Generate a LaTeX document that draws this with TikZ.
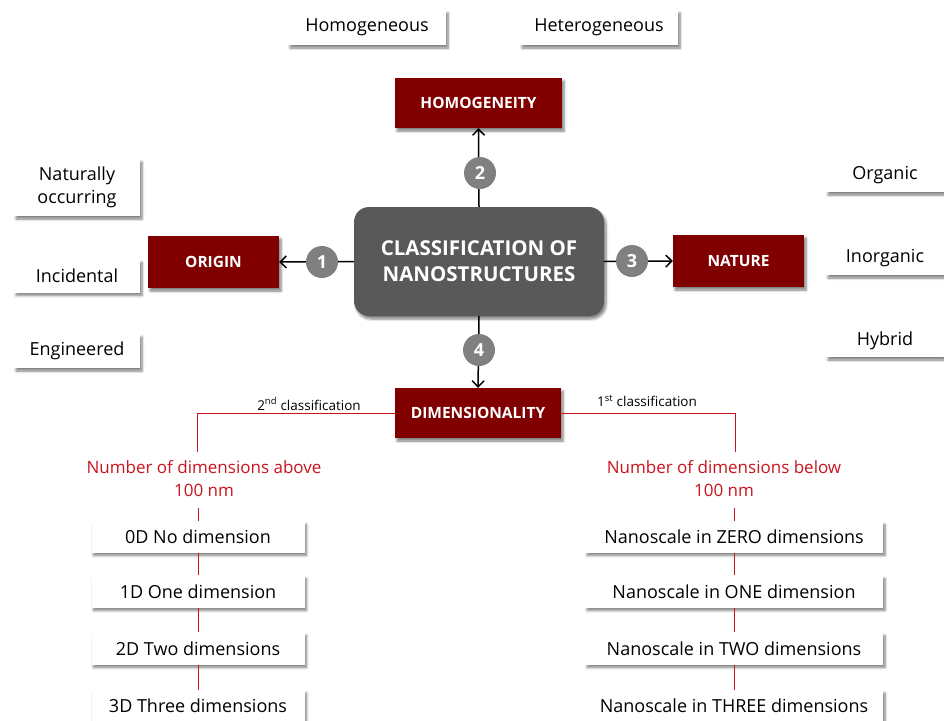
\documentclass[tikz,border=0pt]{standalone}
\usepackage{fontspec}
\setmainfont{Open Sans}
\usetikzlibrary{arrows.meta,shadows.blur}
\definecolor{boxred}{RGB}{128,0,0}
\definecolor{hubgrey}{RGB}{89,89,89}
\definecolor{numgrey}{RGB}{128,128,128}
\definecolor{linered}{RGB}{200,20,30}

\tikzset{
  shadowed/.style={blur shadow={shadow xshift=2pt, shadow yshift=-3pt,
      shadow blur steps=6, shadow blur radius=2.5pt, shadow opacity=50}},
  item/.style={shadowed, fill=white, align=center, inner sep=0pt,
      font=\fontsize{18}{23}\selectfont},
  catbox/.style={shadowed, fill=boxred, text=white, inner sep=0pt,
      font=\bfseries\fontsize{15.5}{18}\selectfont},
  hubbox/.style={shadowed, fill=hubgrey, text=white, rounded corners=15pt,
      align=center, inner sep=0pt, font=\bfseries\fontsize{20.5}{26}\selectfont},
  numdot/.style={circle, fill=numgrey, text=white, minimum size=32pt,
      inner sep=0pt, font=\bfseries\fontsize{18}{18}\selectfont},
  link/.style={line width=1.5pt, -{Straight Barb[length=6pt,width=12pt,line width=1.5pt]}},
  redline/.style={draw=linered, line width=0.9pt},
  redtext/.style={text=linered, align=center, inner sep=1pt,
      font=\fontsize{17}{23}\selectfont},
  classlabel/.style={font=\fontsize{13.5}{15}\selectfont, inner sep=0pt},
}

\begin{document}
\begin{tikzpicture}[x=1pt,y=-1pt]
\useasboundingbox (0,0) rectangle (944,720);

% central hub
\node[hubbox, minimum width=250pt, minimum height=109pt] (hub) at (479,261.5)
  {CLASSIFICATION OF\\NANOSTRUCTURES};

% the four criteria
\node[catbox, minimum width=167pt, minimum height=50pt] (homog) at (478.5,103) {HOMOGENEITY};
\node[catbox, minimum width=131pt, minimum height=52pt] (origin) at (213.5,262) {ORIGIN};
\node[catbox, minimum width=131pt, minimum height=52pt] (nature) at (738.5,261) {NATURE};
\node[catbox, minimum width=166pt, minimum height=50pt] (dim) at (478,413) {DIMENSIONALITY};

% arrows from the hub
\draw[link] (hub.north) -- (homog.south);
\draw[link] (hub.west) -- (origin.east);
\draw[link] (hub.east) -- (nature.west);
\draw[link] (hub.south) -- (dim.north);

% numbered markers on the arrows
\node[numdot] (n1) at (322,262) {1};
\node[numdot] (n2) at (480,173) {2};
\node[numdot] (n3) at (632,261) {3};
\node[numdot] (n4) at (479,350) {4};

% homogeneity types
\node[item, minimum width=158pt, minimum height=35pt] (hom) at (367,27.5) {Homogeneous};
\node[item, minimum width=158pt, minimum height=35pt] (het) at (599,27.5) {Heterogeneous};

% origin types
\node[item, minimum width=126pt, minimum height=57pt] (natocc) at (77,187.5) {Naturally\\occurring};
\node[item, minimum width=126pt, minimum height=33pt] (incid) at (77,276) {Incidental};
\node[item, minimum width=126pt, minimum height=34pt] (engin) at (77,351) {Engineered};

% nature types
\node[item, minimum width=118pt, minimum height=34pt] (organic) at (885,175) {Organic};
\node[item, minimum width=118pt, minimum height=33pt] (inorg) at (885,258.5) {Inorganic};
\node[item, minimum width=118pt, minimum height=32pt] (hybrid) at (885,341) {Hybrid};

% dimensionality branches
\node[classlabel] (second) at (309,404) {2\textsuperscript{nd} classification};
\node[classlabel] (first) at (647,401) {1\textsuperscript{st} classification};

\node[redtext] (above) at (204,479) {Number of dimensions above\\100 nm};
\node[redtext] (below) at (724,479) {Number of dimensions below\\100 nm};

\coordinate (lturn) at (197,452);
\coordinate (rturn) at (735,452);
\draw[redline] (dim.west) -| (lturn);
\draw[redline] (dim.east) -| (rturn);

% counting dimensions above 100 nm
\node[item, minimum width=213pt, minimum height=31pt] (a0) at (198,537) {0D No dimension};
\node[item, minimum width=213pt, minimum height=32pt] (a1) at (198,591.5) {1D One dimension};
\node[item, minimum width=213pt, minimum height=32pt] (a2) at (198,648.5) {2D Two dimensions};
\node[item, minimum width=213pt, minimum height=32pt] (a3) at (198,706) {3D Three dimensions};

% counting dimensions below 100 nm
\node[item, minimum width=298pt, minimum height=31pt] (b0) at (734,537) {Nanoscale in ZERO dimensions};
\node[item, minimum width=298pt, minimum height=32pt] (b1) at (734,591.5) {Nanoscale in ONE dimension};
\node[item, minimum width=298pt, minimum height=32pt] (b2) at (734,648.5) {Nanoscale in TWO dimensions};
\node[item, minimum width=298pt, minimum height=32pt] (b3) at (734,706) {Nanoscale in THREE dimensions};

\draw[redline] (a0.north) -- ++(0,-13);
\draw[redline] (a0.south) -- (a1.north);
\draw[redline] (a1.south) -- (a2.north);
\draw[redline] (a2.south) -- (a3.north);
\draw[redline] (b0.north) -- ++(0,-13);
\draw[redline] (b0.south) -- (b1.north);
\draw[redline] (b1.south) -- (b2.north);
\draw[redline] (b2.south) -- (b3.north);
\end{tikzpicture}
\end{document}
